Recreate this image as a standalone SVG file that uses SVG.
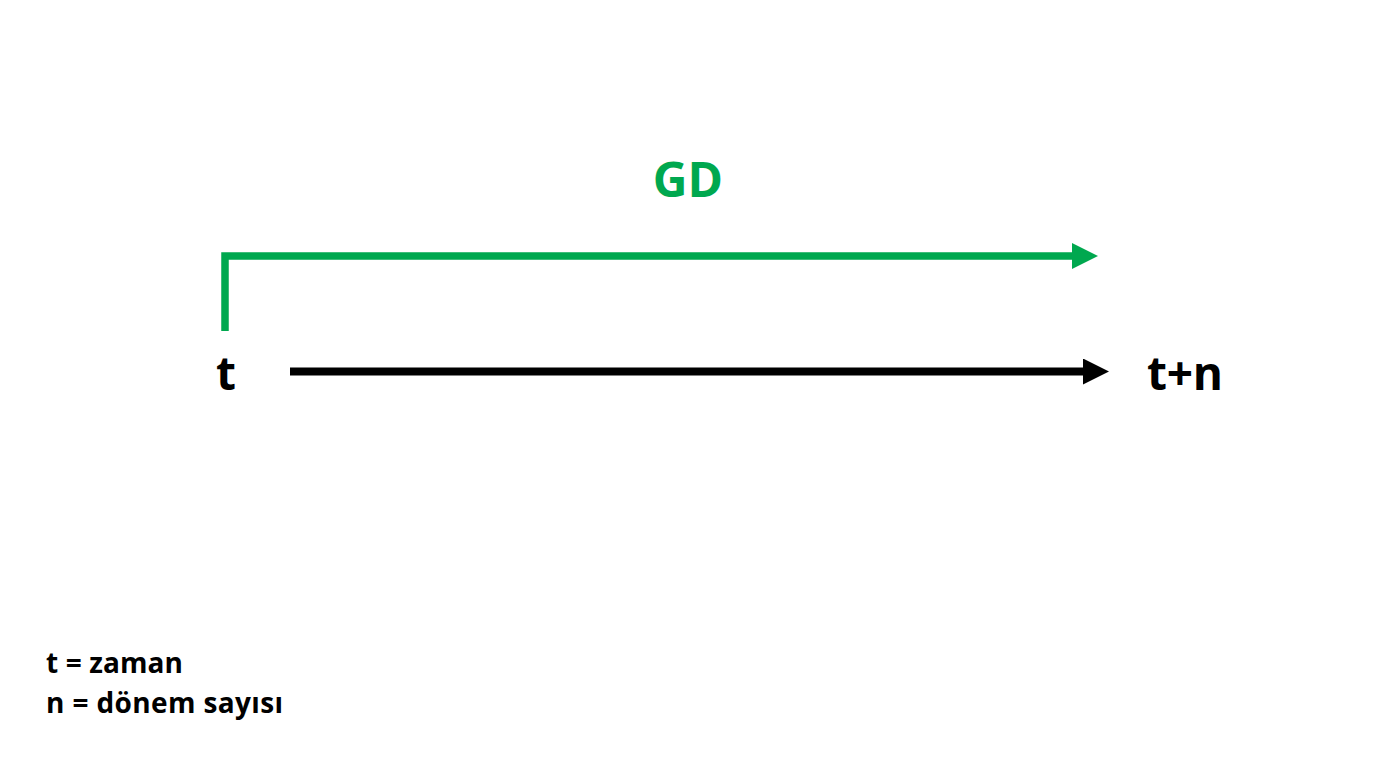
<svg xmlns="http://www.w3.org/2000/svg" width="1376" height="768" viewBox="0 0 1376 768">
<style>
text{font-family:"Open Sans","Noto Sans","DejaVu Sans",sans-serif;font-weight:bold;}
.lbl{font-size:46px;fill:#000;}
.leg{font-size:28px;fill:#000;}
</style>
<defs>
<marker id="ag" markerUnits="userSpaceOnUse" markerWidth="26" markerHeight="26" refX="0" refY="13" orient="auto" viewBox="0 0 26 26"><path d="M0,0 L26,13 L0,26 Z" fill="#00A84F"/></marker>
<marker id="ab" markerUnits="userSpaceOnUse" markerWidth="26" markerHeight="26" refX="0" refY="13" orient="auto" viewBox="0 0 26 26"><path d="M0,0 L26,13 L0,26 Z" fill="#000"/></marker>
</defs>
<rect width="1376" height="768" fill="#fff"/>
<g id="connectors">
<path d="M225,331 V256 H1072" fill="none" stroke="#00A84F" stroke-width="7.5" marker-end="url(#ag)"/>
<path d="M290,371.5 H1083" fill="none" stroke="#000" stroke-width="8" marker-end="url(#ab)"/>
</g>
<g id="node-gd"><text x="688" y="197" text-anchor="middle" font-size="48" fill="#00A84F">GD</text></g>
<g id="node-t"><text class="lbl" x="216" y="390">t</text></g>
<g id="node-tn"><text class="lbl" x="1147" y="390" textLength="76">t+n</text></g>
<g id="legend">
<text class="leg" x="46" y="673" textLength="137">t = zaman</text>
<text class="leg" x="46" y="713" textLength="237">n = dönem sayısı</text>
</g>
</svg>
